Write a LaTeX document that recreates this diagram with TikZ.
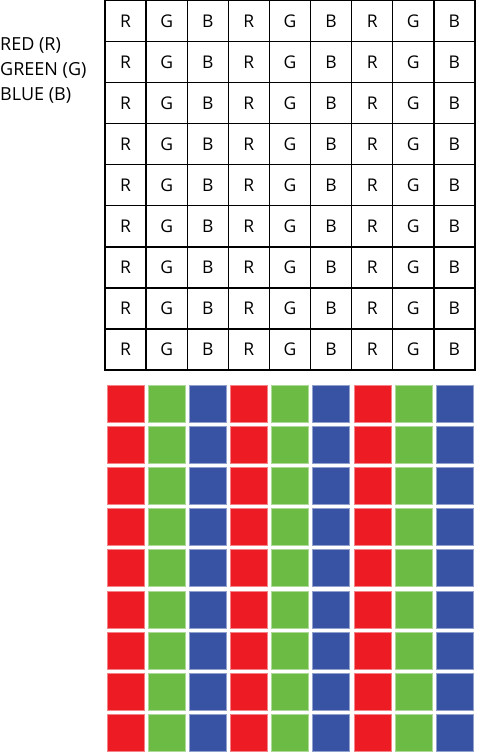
\documentclass[tikz,border=0pt]{standalone}
\usepackage{fontspec}
\setmainfont{Open Sans}
\definecolor{pixred}{RGB}{237,28,36}
\definecolor{pixgreen}{RGB}{108,187,69}
\definecolor{pixblue}{RGB}{57,83,164}
\begin{document}
\begin{tikzpicture}[x=1pt,y=-1pt,
    cell/.style={draw=black,line width=1.4pt,minimum size=41.1pt,inner sep=0pt,
      font=\fontsize{17.5}{22}\selectfont},
    pix/.style={fill=#1,draw=#1!55!white,line width=0.8pt,minimum size=37pt,inner sep=0pt},
    legend/.style={anchor=base west,inner sep=0pt,font=\fontsize{18}{22}\selectfont}]
  \useasboundingbox (0,0) rectangle (478,753);
  % legend
  \node[legend] (red) at (0,50) {RED (R)};
  \node[legend] (green) at (0,75) {GREEN (G)};
  \node[legend] (blue) at (0,100) {BLUE (B)};
  % letter grid and colour mosaic
  \foreach \c/\l/\k in {0/R/pixred,1/G/pixgreen,2/B/pixblue,3/R/pixred,4/G/pixgreen,
      5/B/pixblue,6/R/pixred,7/G/pixgreen,8/B/pixblue}
    \foreach \r in {0,...,8} {
      \node[cell] (cell-\r-\c) at (125.6+41.1*\c,20.8+41.1*\r) {\l};
      \node[pix=\k] (pix-\r-\c) at (125.8+41.1*\c,403.5+41.2*\r) {};
    }
\end{tikzpicture}
\end{document}
